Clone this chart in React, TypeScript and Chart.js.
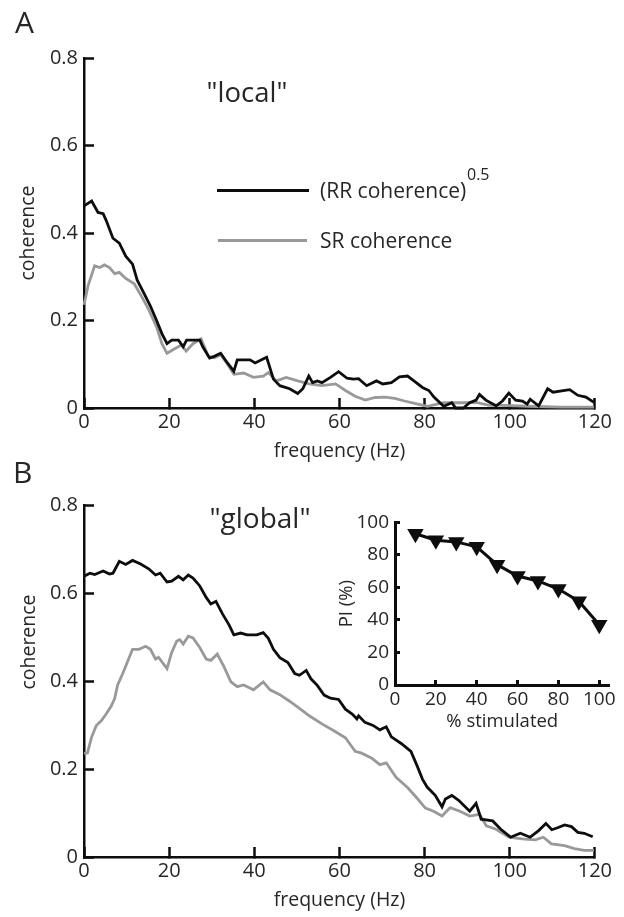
import React, { useEffect, useRef } from "react";
import { Chart, registerables } from "chart.js";

Chart.register(...registerables);

// ---------- Panel A ("local") ----------
const FREQ_A_RR = [0, 1.8, 3.3, 4.5, 5.2, 6.8, 8.3, 9.8, 11.4, 12.5, 14.1, 15.6, 17.1, 18.3, 19.5, 20.6, 22.2, 23.3, 24.1, 27.2, 27.9, 29.5, 30.6, 32.1, 33.7, 35.2, 36, 39, 40.2, 42.9, 44.5, 46, 48.3, 50.2, 51.4, 52.8, 53.7, 54.8, 55.9, 57.9, 59.8, 61.8, 63.3, 64.5, 66.4, 68.7, 70.2, 72.2, 74.1, 76, 77.5, 79.5, 81, 82.2, 84.5, 86.4, 87.3, 89.1, 90.6, 92.1, 92.9, 94.4, 96.8, 98.3, 99.8, 101.4, 103, 104.1, 104.8, 106.8, 108.9, 110.2, 112.2, 114.1, 116, 117.9, 119.8];
const COH_A_RR = [0.462, 0.473, 0.447, 0.444, 0.429, 0.388, 0.377, 0.347, 0.329, 0.292, 0.262, 0.233, 0.199, 0.17, 0.147, 0.155, 0.155, 0.14, 0.155, 0.155, 0.14, 0.114, 0.118, 0.125, 0.103, 0.084, 0.11, 0.11, 0.103, 0.116, 0.066, 0.051, 0.044, 0.033, 0.044, 0.073, 0.058, 0.062, 0.058, 0.07, 0.083, 0.068, 0.066, 0.067, 0.051, 0.062, 0.055, 0.058, 0.071, 0.073, 0.062, 0.047, 0.04, 0.025, 0.004, 0.012, 0.0, 0.0, 0.012, 0.018, 0.031, 0.018, 0.005, 0.016, 0.034, 0.018, 0.016, 0.009, 0.02, 0.005, 0.044, 0.036, 0.039, 0.042, 0.029, 0.025, 0.013];

const FREQ_A_SR = [0, 1, 2.5, 3.7, 4.8, 6, 7.2, 8.3, 9.8, 11.8, 13.3, 15.2, 17.1, 18.3, 19.5, 21.4, 22.9, 24, 25.6, 27.5, 29.2, 30.6, 32.1, 33.7, 35.2, 37.5, 39.8, 42.1, 43.3, 45.2, 47.5, 50.2, 52.9, 55.9, 59.1, 61.4, 63.7, 66.1, 68.4, 70.7, 73, 75.3, 78.4, 80.7, 84.5, 89.1, 92.1, 95.2, 98.3, 104.4, 112, 119.8];
const COH_A_SR = [0.236, 0.281, 0.325, 0.321, 0.327, 0.321, 0.307, 0.31, 0.296, 0.284, 0.259, 0.225, 0.184, 0.147, 0.125, 0.136, 0.144, 0.13, 0.147, 0.158, 0.118, 0.115, 0.122, 0.1, 0.077, 0.08, 0.07, 0.073, 0.081, 0.062, 0.07, 0.062, 0.055, 0.051, 0.055, 0.04, 0.027, 0.018, 0.024, 0.025, 0.022, 0.016, 0.009, 0.004, 0.012, 0.012, 0.013, 0.006, 0.006, 0.004, 0.002, 0.002];

// ---------- Panel B ("global") ----------
const FREQ_B_RR = [0, 1.4, 2.5, 4.5, 6, 6.8, 8.3, 9.8, 11.4, 13.3, 15.2, 16.8, 17.9, 19.5, 20.6, 22.2, 23.3, 24.5, 25.6, 27.2, 28.7, 29.8, 31, 32.5, 34.1, 35.2, 36.8, 38.3, 40.6, 42.1, 43.3, 44.5, 46, 47.9, 49.5, 50.6, 52.2, 53.3, 54.8, 56.4, 57.9, 59.8, 61.4, 63, 64.1, 64.5, 66, 67.9, 69.5, 71, 72.2, 74.5, 76.8, 78.3, 79.5, 80.6, 82.5, 84.1, 84.9, 86.4, 88, 90.6, 92.1, 93.3, 96, 97.9, 100.2, 102.5, 104.8, 106.8, 108.5, 109.9, 111.4, 112.9, 114.5, 116, 117.5, 119.5];
const COH_B_RR = [0.638, 0.645, 0.642, 0.65, 0.643, 0.645, 0.672, 0.665, 0.674, 0.666, 0.655, 0.641, 0.645, 0.625, 0.627, 0.638, 0.63, 0.641, 0.634, 0.616, 0.59, 0.575, 0.581, 0.553, 0.527, 0.505, 0.509, 0.505, 0.505, 0.51, 0.497, 0.472, 0.453, 0.442, 0.417, 0.413, 0.424, 0.405, 0.39, 0.368, 0.361, 0.358, 0.336, 0.325, 0.314, 0.321, 0.306, 0.299, 0.289, 0.296, 0.273, 0.258, 0.24, 0.206, 0.177, 0.159, 0.14, 0.114, 0.132, 0.14, 0.129, 0.104, 0.122, 0.086, 0.082, 0.063, 0.045, 0.054, 0.045, 0.06, 0.076, 0.062, 0.067, 0.073, 0.069, 0.056, 0.054, 0.046];

const FREQ_B_SR = [0, 0.8, 1.8, 2.9, 4.1, 5.2, 6.4, 7.2, 7.9, 9.1, 10.2, 11.4, 12.9, 14.5, 15.6, 16.8, 17.5, 19.5, 20.6, 21.8, 22.5, 23.3, 24.5, 25.6, 27.2, 28.7, 29.8, 31.3, 32.9, 34.5, 36, 37.5, 39.8, 42.1, 43.7, 46, 48.3, 51.4, 52.9, 56, 58.7, 61.4, 63.7, 65.2, 67.5, 69.5, 71, 73.3, 76, 78.3, 80.2, 82.1, 84.1, 86, 88.3, 90.6, 92.9, 94.5, 96.8, 99.8, 102.9, 106, 107.9, 109.8, 112.9, 115.2, 117.5, 119.8];
const COH_B_SR = [0.236, 0.236, 0.273, 0.299, 0.31, 0.325, 0.343, 0.36, 0.391, 0.417, 0.443, 0.472, 0.472, 0.479, 0.472, 0.45, 0.454, 0.428, 0.465, 0.491, 0.494, 0.484, 0.502, 0.498, 0.476, 0.45, 0.447, 0.461, 0.432, 0.398, 0.387, 0.391, 0.38, 0.398, 0.38, 0.369, 0.354, 0.332, 0.321, 0.302, 0.287, 0.271, 0.24, 0.236, 0.225, 0.21, 0.214, 0.181, 0.158, 0.133, 0.111, 0.104, 0.093, 0.112, 0.104, 0.093, 0.097, 0.071, 0.063, 0.045, 0.041, 0.039, 0.045, 0.03, 0.026, 0.019, 0.015, 0.015];

// ---------- Inset ----------
const INSET_STIM = [10, 20, 30, 40, 50, 60, 70, 80, 90, 100];
const INSET_PI = [93, 89, 88, 85, 74, 67, 64, 59, 51.5, 37];

const COH_TICKS = [0, 0.2, 0.4, 0.6, 0.8];
const FREQ_TICKS = [0, 20, 40, 60, 80, 100, 120];
const INSET_TICKS = [0, 20, 40, 60, 80, 100];

const FONT = "'Open Sans', 'Noto Sans', sans-serif";
const TEXT = "#262626";
const BLACK = "#0d0d0d";
const GRAY = "#999999";

function pts(xs: number[], ys: number[]) {
  return xs.map((x, i) => ({ x, y: ys[i] }));
}

function mainConfig(rrX: number[], rrY: number[], srX: number[], srY: number[], showYTitle: boolean): any {
  return {
    type: "line",
    data: {
      datasets: [
        { label: "(RR coherence)^0.5", data: pts(rrX, rrY), borderColor: BLACK, borderWidth: 2.8, pointRadius: 0, tension: 0, clip: false },
        { label: "SR coherence", data: pts(srX, srY), borderColor: GRAY, borderWidth: 2.8, pointRadius: 0, tension: 0, clip: false },
      ],
    },
    options: {
      responsive: false,
      animation: false,
      devicePixelRatio: 1,
      layout: { padding: { top: 18, right: 20, left: 0, bottom: 0 } },
      plugins: { legend: { display: false }, tooltip: { enabled: false } },
      scales: {
        x: {
          type: "linear",
          min: 0,
          max: 120,
          afterFit: (s: any) => { s.height = 60; },
          afterBuildTicks: (s: any) => { s.ticks = FREQ_TICKS.map((v) => ({ value: v })); },
          border: { display: true, color: BLACK, width: 2.5 },
          grid: { drawOnChartArea: false, tickLength: -10, color: BLACK, tickWidth: 2.5 },
          ticks: { padding: 12, color: TEXT, font: { family: FONT, size: 20 }, maxRotation: 0, autoSkip: false, callback: (v: any) => String(v) },
          title: { display: true, text: "frequency (Hz)", color: TEXT, font: { family: FONT, size: 19.5 }, padding: { top: 0, bottom: 5.3 } },
        },
        y: {
          type: "linear",
          min: 0,
          max: 0.8,
          afterFit: (s: any) => { s.width = 84; },
          afterBuildTicks: (s: any) => { s.ticks = COH_TICKS.map((v) => ({ value: v })); },
          border: { display: true, color: BLACK, width: 2.5 },
          grid: { drawOnChartArea: false, tickLength: -10, color: BLACK, tickWidth: 2.5 },
          ticks: { padding: 16, color: TEXT, font: { family: FONT, size: 20 }, autoSkip: false, callback: (v: any) => (v === 0 ? "0" : Number(v).toFixed(1)) },
          title: { display: showYTitle, text: "coherence", color: TEXT, font: { family: FONT, size: 19.5 }, padding: { top: 16.3, bottom: 0 } },
        },
      },
    },
  };
}

function insetConfig(): any {
  return {
    type: "line",
    data: {
      datasets: [
        {
          label: "PI",
          data: pts(INSET_STIM, INSET_PI),
          borderColor: BLACK,
          borderWidth: 3,
          backgroundColor: BLACK,
          pointBackgroundColor: BLACK,
          pointBorderColor: BLACK,
          pointBorderWidth: 0,
          pointStyle: "triangle",
          pointRotation: 180,
          pointRadius: 9.5,
          tension: 0,
          clip: false,
        },
      ],
    },
    options: {
      responsive: false,
      animation: false,
      devicePixelRatio: 1,
      layout: { padding: { top: 18, right: 7, left: 0, bottom: 0 } },
      plugins: { legend: { display: false }, tooltip: { enabled: false } },
      scales: {
        x: {
          type: "linear",
          min: 0,
          max: 105,
          afterFit: (s: any) => { s.height = 50; },
          afterBuildTicks: (s: any) => { s.ticks = INSET_TICKS.map((v) => ({ value: v })); },
          border: { display: true, color: BLACK, width: 3 },
          grid: { drawOnChartArea: false, tickLength: -5, color: BLACK, tickWidth: 3 },
          ticks: { padding: 8, color: TEXT, font: { family: FONT, size: 19 }, maxRotation: 0, autoSkip: false },
          title: { display: true, text: "% stimulated", color: TEXT, font: { family: FONT, size: 18.5 }, padding: { top: 0, bottom: 2 } },
        },
        y: {
          type: "linear",
          min: 0,
          max: 100,
          afterFit: (s: any) => { s.width = 75; },
          afterBuildTicks: (s: any) => { s.ticks = INSET_TICKS.map((v) => ({ value: v })); },
          border: { display: true, color: BLACK, width: 3 },
          grid: { drawOnChartArea: false, tickLength: -5, color: BLACK, tickWidth: 3 },
          ticks: { padding: 11, color: TEXT, font: { family: FONT, size: 19 }, autoSkip: false },
          title: { display: true, text: "PI (%)", color: TEXT, font: { family: FONT, size: 18.5 }, padding: { top: 15.9, bottom: 0 } },
        },
      },
    },
  };
}

function ChartBox(props: { left: number; top: number; width: number; height: number; make: () => any }) {
  const ref = useRef<HTMLCanvasElement | null>(null);
  useEffect(() => {
    if (!ref.current) return;
    const chart = new Chart(ref.current, props.make());
    return () => chart.destroy();
  }, []);
  return (
    <canvas
      ref={ref}
      width={props.width}
      height={props.height}
      style={{ position: "absolute", left: props.left, top: props.top, width: props.width, height: props.height }}
    />
  );
}

const txt = (extra: any): any => ({
  position: "absolute",
  fontFamily: FONT,
  color: TEXT,
  lineHeight: 1,
  whiteSpace: "nowrap",
  ...extra,
});

export default function App() {
  return (
    <div style={{ position: "absolute", left: 0, top: 0, width: 624, height: 917, background: "#fff", overflow: "hidden" }}>
      <ChartBox left={0} top={30} width={624} height={438} make={() => mainConfig(FREQ_A_RR, COH_A_RR, FREQ_A_SR, COH_A_SR, true)} />
      <ChartBox left={0} top={477} width={624} height={440} make={() => mainConfig(FREQ_B_RR, COH_B_RR, FREQ_B_SR, COH_B_SR, false)} />
      <ChartBox left={320} top={500} width={304} height={235} make={insetConfig} />

      <div style={txt({ left: 15, top: 7, fontSize: 30 })}>A</div>
      <div style={txt({ left: 13, top: 457, fontSize: 30 })}>B</div>

      <div style={txt({ left: 247, top: 78, fontSize: 27.5, transform: "translateX(-50%)" })}>"local"</div>
      <div style={txt({ left: 260, top: 503, fontSize: 28, transform: "translateX(-50%)" })}>"global"</div>

      <div style={{ position: "absolute", left: 217, top: 188.5, width: 92, height: 3.5, background: BLACK }} />
      <div style={txt({ left: 320, top: 179.5, fontSize: 21 })}>(RR coherence)</div>
      <div style={txt({ left: 467, top: 165.5, fontSize: 16 })}>0.5</div>
      <div style={{ position: "absolute", left: 218, top: 238.5, width: 89, height: 3.5, background: GRAY }} />
      <div style={txt({ left: 320, top: 229.5, fontSize: 21 })}>SR coherence</div>

      <div style={txt({ left: 28, top: 642, fontSize: 19.5, transform: "translate(-50%, -50%) rotate(-90deg)" })}>coherence</div>
    </div>
  );
}
